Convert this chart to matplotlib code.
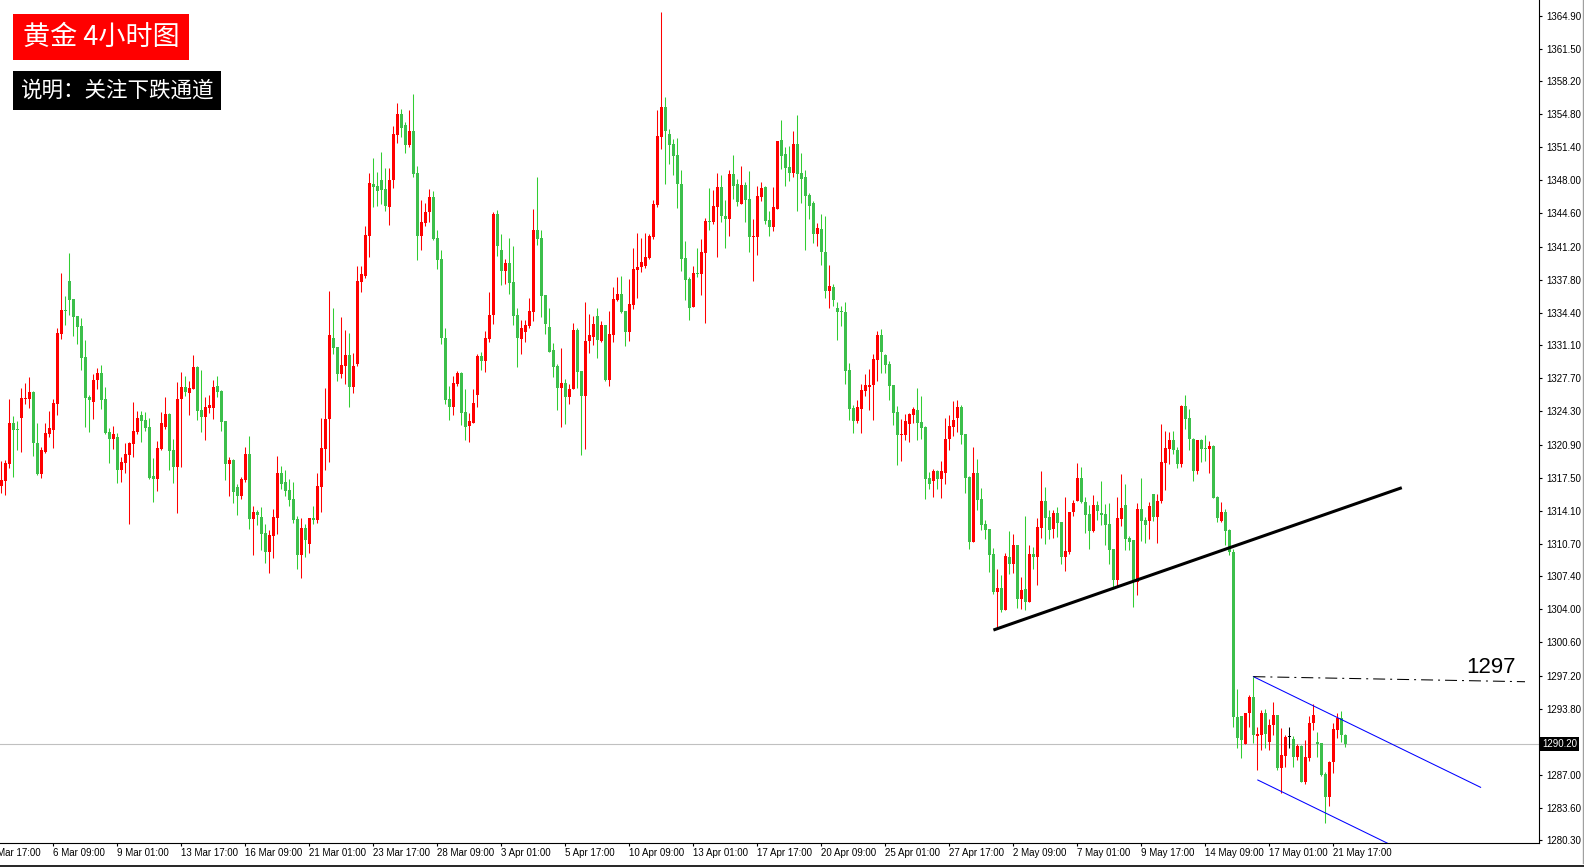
import numpy as np
import matplotlib.pyplot as plt
import matplotlib.transforms as mtransforms
from matplotlib import font_manager
from matplotlib.patches import Rectangle
from matplotlib.lines import Line2D

# bar index 0 = 1 Mar 17:00 (4h bars); first bar on screen is index 3
first_bar = 3
opens = [1316.67, 1317.18, 1318.93, 1323.10, 1322.50, 1323.65, 1325.60, 1325.60, 1326.28, 1321.05,
         1317.90, 1320.16, 1322.00, 1322.42, 1325.08, 1332.26, 1334.70, 1337.66, 1335.82, 1334.08,
         1333.05, 1329.87, 1325.77, 1325.29, 1327.48, 1328.23, 1325.56, 1322.18, 1321.49, 1321.66,
         1318.31, 1319.03, 1319.85, 1320.98, 1322.18, 1323.92, 1323.41, 1322.69, 1317.66, 1317.39,
         1320.47, 1322.72, 1324.06, 1320.33, 1318.62, 1325.56, 1326.79, 1326.21, 1326.62, 1328.84,
         1324.44, 1323.75, 1324.67, 1324.60, 1326.90, 1326.38, 1323.31, 1318.94, 1319.31, 1316.54,
         1315.65, 1317.26, 1319.93, 1313.29, 1313.98, 1313.47, 1311.83, 1309.91, 1311.55, 1313.39,
         1317.98, 1317.05, 1316.23, 1315.31, 1313.26, 1309.60, 1312.34, 1310.73, 1313.36, 1313.16,
         1316.58, 1320.47, 1323.52, 1331.82, 1330.93, 1328.17, 1328.99, 1330.08, 1326.83, 1329.19,
         1337.57, 1338.18, 1342.29, 1347.62, 1347.41, 1348.03, 1347.11, 1345.26, 1348.03, 1352.64,
         1354.80, 1353.67, 1351.62, 1353.05, 1348.75, 1342.29, 1343.62, 1344.75, 1346.29, 1342.08,
         1339.93, 1331.82, 1325.57, 1324.75, 1327.11, 1328.24, 1324.24, 1322.83, 1323.14, 1326.01,
         1329.98, 1329.50, 1331.76, 1334.18, 1344.54, 1340.85, 1338.73, 1339.55, 1337.60, 1334.18,
         1331.76, 1332.48, 1333.09, 1334.53, 1342.90, 1342.08, 1336.24, 1332.95, 1330.59, 1328.99,
         1326.73, 1327.21, 1325.81, 1326.63, 1332.65, 1328.44, 1325.91, 1331.52, 1331.96, 1334.08,
         1331.55, 1333.16, 1327.55, 1332.17, 1335.76, 1336.34, 1334.60, 1332.48, 1335.25, 1338.80,
         1339.11, 1339.25, 1340.06, 1342.22, 1345.47, 1352.44, 1355.52, 1352.75, 1351.72, 1350.60,
         1347.62, 1340.03, 1337.88, 1335.04, 1338.49, 1338.42, 1340.58, 1343.83, 1343.76, 1345.30,
         1347.31, 1344.37, 1344.07, 1348.65, 1347.62, 1345.60, 1347.52, 1346.08, 1342.20, 1342.22,
         1346.32, 1347.31, 1343.93, 1343.25, 1345.09, 1352.13, 1350.70, 1349.37, 1348.75, 1351.72,
         1348.75, 1348.34, 1346.49, 1345.67, 1342.53, 1343.01, 1340.65, 1336.68, 1337.06, 1334.87,
         1334.60, 1334.49, 1328.54, 1324.68, 1323.35, 1324.58, 1326.43, 1326.80, 1327.04, 1329.61,
         1332.17, 1330.12, 1329.19, 1327.04, 1324.27, 1321.91, 1321.87, 1323.00, 1323.92, 1324.44,
         1323.21, 1322.69, 1317.46, 1317.16, 1318.18, 1317.36, 1317.98, 1321.46, 1322.73, 1323.62,
         1324.75, 1321.98, 1317.57, 1310.90, 1317.98, 1315.31, 1312.74, 1312.23, 1309.67, 1305.77,
         1306.18, 1303.92, 1309.36, 1308.64, 1310.59, 1305.05, 1306.08, 1304.75, 1309.67, 1309.36,
         1312.33, 1315.10, 1313.46, 1312.23, 1313.87, 1312.95, 1309.36, 1309.87, 1313.98, 1315.10,
         1317.46, 1315.00, 1313.77, 1312.03, 1314.69, 1313.87, 1313.77, 1312.74, 1310.18, 1307.00,
         1313.26, 1314.69, 1311.31, 1311.10, 1306.84, 1314.29, 1313.16, 1313.09, 1315.83, 1313.50,
         1315.14, 1319.04, 1320.48, 1321.37, 1320.37, 1318.94, 1324.89, 1323.62, 1321.50, 1318.22,
         1321.37, 1320.58, 1320.48, 1320.75, 1315.55, 1313.09, 1314.02, 1312.14, 1309.91, 1292.99,
         1293.06, 1290.15, 1293.33, 1295.04, 1291.01, 1291.11, 1293.40, 1290.43, 1292.14, 1293.16,
         1287.76, 1288.96, 1290.87, 1290.67, 1288.82, 1289.98, 1286.25, 1288.72, 1292.30, 1290.43,
         1290.26, 1287.07, 1284.72, 1288.37, 1291.62, 1292.82, 1291.08]
highs = [1319.24, 1319.31, 1325.56, 1323.82, 1323.31, 1326.69, 1327.17, 1327.82, 1326.42, 1323.13,
         1320.64, 1323.13, 1324.33, 1325.56, 1332.84, 1338.49, 1336.13, 1340.50, 1335.82, 1334.08,
         1333.84, 1331.61, 1325.97, 1328.09, 1328.74, 1329.02, 1326.79, 1322.62, 1322.79, 1322.11,
         1319.61, 1321.05, 1321.19, 1325.25, 1324.33, 1324.33, 1324.23, 1323.61, 1319.51, 1321.26,
         1324.23, 1325.77, 1324.13, 1321.46, 1327.31, 1328.33, 1327.92, 1327.41, 1330.08, 1328.95,
         1328.54, 1325.77, 1325.97, 1327.51, 1327.92, 1326.49, 1323.31, 1319.65, 1319.41, 1316.85,
         1317.57, 1320.64, 1321.77, 1314.59, 1314.18, 1314.49, 1312.75, 1312.13, 1314.29, 1319.72,
         1318.70, 1318.29, 1317.36, 1317.09, 1313.57, 1313.36, 1312.75, 1313.36, 1314.59, 1317.98,
         1323.62, 1326.70, 1336.64, 1334.90, 1330.93, 1333.98, 1332.64, 1332.34, 1330.29, 1339.21,
         1339.21, 1343.31, 1348.75, 1350.29, 1348.85, 1350.90, 1349.26, 1349.26, 1353.57, 1355.93,
         1355.31, 1353.98, 1355.21, 1356.85, 1349.46, 1345.98, 1345.67, 1347.11, 1346.90, 1342.90,
         1340.85, 1332.85, 1326.90, 1327.93, 1328.44, 1328.34, 1326.60, 1324.13, 1326.60, 1330.18,
         1330.39, 1332.54, 1336.54, 1344.75, 1344.95, 1342.49, 1339.93, 1342.08, 1341.26, 1334.90,
         1333.67, 1333.67, 1335.93, 1345.06, 1348.34, 1342.90, 1336.24, 1334.90, 1331.31, 1329.19,
         1330.80, 1327.62, 1327.11, 1333.37, 1332.85, 1328.44, 1335.52, 1334.29, 1334.08, 1334.90,
         1333.57, 1333.16, 1334.60, 1337.06, 1338.08, 1338.19, 1334.60, 1337.88, 1341.06, 1342.60,
         1342.08, 1342.60, 1342.49, 1345.98, 1355.21, 1365.26, 1356.54, 1353.26, 1352.24, 1352.34,
         1349.06, 1341.78, 1338.08, 1339.21, 1341.06, 1341.98, 1344.13, 1347.21, 1347.01, 1348.75,
         1348.54, 1345.98, 1349.06, 1350.60, 1348.13, 1349.47, 1347.83, 1348.95, 1344.03, 1347.42,
         1347.83, 1347.42, 1344.85, 1347.31, 1352.03, 1354.19, 1351.42, 1351.52, 1353.06, 1354.70,
         1350.80, 1349.06, 1346.70, 1345.88, 1343.62, 1344.55, 1344.37, 1339.31, 1337.37, 1335.52,
         1335.11, 1335.52, 1329.26, 1324.96, 1325.50, 1327.14, 1328.13, 1328.68, 1330.22, 1332.58,
         1332.78, 1330.22, 1329.50, 1327.04, 1324.89, 1323.55, 1324.03, 1324.13, 1324.75, 1326.69,
         1325.87, 1322.80, 1318.08, 1318.39, 1318.28, 1319.21, 1323.62, 1323.92, 1325.36, 1325.46,
         1324.95, 1321.98, 1317.67, 1320.64, 1319.41, 1316.44, 1313.15, 1312.23, 1310.28, 1308.13,
         1307.51, 1309.77, 1312.03, 1311.72, 1310.59, 1307.31, 1313.57, 1310.59, 1310.39, 1313.36,
         1318.18, 1316.54, 1314.18, 1314.18, 1314.49, 1312.95, 1315.51, 1313.98, 1315.21, 1319.00,
         1318.59, 1315.51, 1314.69, 1315.72, 1315.10, 1317.16, 1314.79, 1314.90, 1310.18, 1315.51,
         1317.87, 1316.85, 1311.51, 1311.10, 1314.90, 1317.43, 1313.43, 1315.01, 1315.83, 1315.83,
         1323.01, 1322.29, 1322.19, 1322.29, 1320.68, 1324.96, 1325.98, 1324.55, 1321.60, 1321.37,
         1321.47, 1321.88, 1321.26, 1320.89, 1315.66, 1315.01, 1314.32, 1312.27, 1310.15, 1295.79,
         1293.06, 1293.40, 1295.21, 1297.09, 1291.96, 1293.67, 1293.74, 1292.72, 1294.53, 1293.16,
         1291.79, 1291.07, 1291.89, 1291.01, 1290.19, 1290.08, 1290.60, 1293.06, 1294.29, 1291.45,
         1290.32, 1287.35, 1288.44, 1292.30, 1293.33, 1293.57, 1291.21]
lows = [1315.96, 1315.75, 1318.52, 1317.60, 1320.33, 1320.16, 1325.08, 1324.67, 1319.75, 1317.77,
        1317.49, 1319.99, 1321.70, 1320.57, 1323.96, 1331.75, 1333.15, 1334.21, 1332.06, 1331.24,
        1328.57, 1322.72, 1322.21, 1323.55, 1326.59, 1324.57, 1321.97, 1319.03, 1320.40, 1316.91,
        1317.02, 1318.01, 1312.78, 1319.65, 1321.94, 1321.19, 1322.31, 1317.39, 1315.03, 1316.16,
        1320.37, 1322.52, 1318.31, 1316.98, 1313.90, 1318.62, 1325.87, 1323.96, 1326.55, 1323.44,
        1322.21, 1321.39, 1324.16, 1323.51, 1325.80, 1322.31, 1317.29, 1315.62, 1314.94, 1313.70,
        1315.31, 1317.06, 1312.23, 1309.60, 1312.68, 1310.08, 1308.78, 1307.76, 1309.29, 1311.76,
        1316.34, 1315.65, 1314.59, 1312.88, 1308.13, 1307.24, 1309.40, 1309.77, 1312.75, 1312.88,
        1314.01, 1318.32, 1319.14, 1330.22, 1327.45, 1327.72, 1327.14, 1324.78, 1326.22, 1328.99,
        1336.58, 1337.98, 1340.13, 1345.26, 1345.36, 1345.57, 1344.85, 1343.41, 1347.21, 1351.82,
        1352.44, 1350.80, 1351.41, 1348.34, 1339.82, 1340.85, 1343.31, 1343.72, 1341.88, 1338.90,
        1331.21, 1325.06, 1323.41, 1323.93, 1326.94, 1322.94, 1321.40, 1321.19, 1323.14, 1324.78,
        1328.54, 1328.34, 1331.45, 1333.26, 1340.27, 1337.30, 1337.40, 1336.37, 1333.19, 1328.89,
        1330.22, 1331.45, 1332.88, 1333.60, 1341.40, 1334.01, 1332.27, 1330.42, 1327.86, 1324.48,
        1322.73, 1323.04, 1325.09, 1326.63, 1326.73, 1319.86, 1320.48, 1330.32, 1331.14, 1329.81,
        1331.45, 1327.45, 1326.94, 1331.45, 1335.66, 1334.43, 1331.04, 1331.55, 1334.83, 1335.96,
        1338.63, 1339.04, 1339.96, 1342.01, 1345.26, 1351.21, 1347.62, 1349.67, 1348.54, 1345.16,
        1338.73, 1335.76, 1333.71, 1335.04, 1338.12, 1336.27, 1333.40, 1342.94, 1343.55, 1340.17,
        1343.76, 1341.09, 1342.32, 1346.08, 1345.40, 1345.60, 1343.76, 1340.68, 1337.71, 1340.37,
        1345.91, 1343.55, 1342.32, 1342.83, 1345.09, 1349.19, 1347.45, 1347.93, 1348.37, 1344.89,
        1345.71, 1340.89, 1344.07, 1341.60, 1341.30, 1339.35, 1335.96, 1334.94, 1335.14, 1331.66,
        1333.09, 1327.14, 1323.45, 1322.12, 1323.14, 1322.12, 1325.91, 1324.48, 1323.45, 1327.45,
        1328.27, 1328.27, 1325.50, 1322.94, 1318.84, 1319.25, 1321.36, 1321.16, 1323.07, 1321.36,
        1321.46, 1315.31, 1316.33, 1315.51, 1316.33, 1315.41, 1316.85, 1320.33, 1321.77, 1322.18,
        1320.95, 1315.92, 1310.18, 1310.90, 1314.18, 1312.13, 1311.21, 1307.82, 1305.57, 1301.98,
        1303.72, 1303.92, 1307.62, 1307.72, 1304.13, 1304.03, 1303.92, 1304.75, 1308.13, 1306.49,
        1311.31, 1310.69, 1311.21, 1311.31, 1311.41, 1308.64, 1307.92, 1309.67, 1313.57, 1315.10,
        1314.90, 1311.82, 1310.18, 1311.92, 1313.15, 1312.64, 1310.59, 1308.64, 1306.08, 1306.28,
        1312.54, 1310.08, 1310.08, 1304.23, 1305.46, 1311.04, 1310.77, 1311.18, 1313.09, 1310.77,
        1314.94, 1316.27, 1318.94, 1319.96, 1318.53, 1318.63, 1322.53, 1320.37, 1317.20, 1317.91,
        1319.14, 1319.25, 1318.02, 1315.45, 1312.99, 1312.99, 1310.63, 1309.54, 1291.96, 1289.74,
        1288.79, 1290.15, 1291.96, 1290.32, 1287.52, 1289.57, 1289.74, 1289.57, 1291.11, 1287.52,
        1285.13, 1287.79, 1289.81, 1287.79, 1288.55, 1286.25, 1286.08, 1288.45, 1291.62, 1288.82,
        1286.90, 1282.05, 1283.83, 1287.18, 1290.77, 1290.43, 1289.91]
closes = [1317.25, 1318.96, 1323.10, 1322.42, 1322.40, 1325.66, 1325.70, 1326.28, 1321.08, 1317.87,
          1320.33, 1322.08, 1322.59, 1325.15, 1332.33, 1334.69, 1334.60, 1335.75, 1334.01, 1332.98,
          1329.80, 1325.70, 1325.49, 1327.51, 1328.23, 1325.49, 1322.11, 1321.49, 1321.97, 1318.31,
          1319.10, 1319.96, 1321.08, 1322.28, 1323.61, 1323.34, 1322.62, 1317.49, 1317.39, 1320.54,
          1323.10, 1324.02, 1320.26, 1318.62, 1325.56, 1326.79, 1326.28, 1326.69, 1328.84, 1324.37,
          1323.75, 1324.74, 1324.95, 1326.79, 1326.31, 1323.24, 1318.93, 1319.31, 1316.06, 1315.65,
          1317.40, 1319.93, 1313.29, 1313.98, 1313.67, 1311.76, 1309.91, 1311.62, 1313.46, 1317.98,
          1316.88, 1316.13, 1315.24, 1313.16, 1309.60, 1312.34, 1311.11, 1313.36, 1313.16, 1316.65,
          1320.54, 1323.52, 1332.13, 1330.83, 1328.17, 1329.05, 1330.08, 1326.83, 1328.99, 1337.67,
          1338.39, 1342.39, 1347.72, 1347.31, 1346.93, 1347.00, 1345.36, 1348.03, 1352.75, 1354.80,
          1353.36, 1351.62, 1353.05, 1348.64, 1342.29, 1343.72, 1344.75, 1346.29, 1341.98, 1339.82,
          1331.82, 1325.47, 1324.75, 1327.21, 1328.24, 1324.17, 1322.73, 1323.31, 1325.16, 1329.98,
          1329.50, 1331.83, 1334.18, 1344.54, 1341.30, 1338.73, 1339.55, 1337.50, 1334.12, 1331.86,
          1332.85, 1333.16, 1334.60, 1342.90, 1342.01, 1336.17, 1333.26, 1330.42, 1328.89, 1326.73,
          1327.21, 1325.81, 1326.60, 1332.65, 1328.37, 1325.91, 1331.52, 1332.13, 1333.26, 1331.59,
          1333.16, 1327.55, 1332.24, 1335.83, 1336.34, 1334.53, 1332.48, 1335.31, 1338.90, 1339.11,
          1339.62, 1340.13, 1342.29, 1345.57, 1352.54, 1355.52, 1353.06, 1351.62, 1350.49, 1347.62,
          1339.96, 1337.81, 1334.94, 1338.49, 1338.36, 1340.65, 1343.83, 1343.76, 1345.37, 1347.31,
          1344.37, 1344.07, 1348.65, 1347.45, 1345.81, 1347.52, 1346.01, 1342.22, 1342.30, 1346.39,
          1347.21, 1343.86, 1343.25, 1345.26, 1352.03, 1350.53, 1349.30, 1348.75, 1351.72, 1348.65,
          1348.17, 1346.43, 1345.40, 1342.53, 1343.11, 1340.68, 1336.68, 1337.16, 1335.76, 1334.53,
          1334.50, 1328.48, 1324.58, 1323.35, 1324.78, 1326.53, 1327.04, 1327.04, 1329.71, 1332.17,
          1330.43, 1329.09, 1326.94, 1324.17, 1321.91, 1322.02, 1323.31, 1324.03, 1324.54, 1323.14,
          1322.59, 1317.36, 1316.85, 1318.18, 1317.36, 1318.18, 1321.46, 1322.80, 1323.41, 1324.75,
          1321.87, 1317.46, 1310.90, 1317.98, 1315.21, 1312.64, 1312.13, 1309.57, 1305.77, 1306.18,
          1303.92, 1309.46, 1308.64, 1310.59, 1305.05, 1305.98, 1304.75, 1309.67, 1309.36, 1312.44,
          1315.10, 1313.36, 1312.13, 1313.87, 1312.85, 1309.36, 1309.97, 1313.98, 1314.90, 1317.46,
          1315.00, 1313.67, 1312.03, 1314.69, 1314.08, 1313.67, 1312.64, 1310.08, 1307.00, 1313.36,
          1314.39, 1311.21, 1310.90, 1307.00, 1314.29, 1313.09, 1312.65, 1314.60, 1313.50, 1315.14,
          1319.11, 1320.55, 1321.37, 1320.37, 1318.94, 1324.89, 1323.55, 1321.50, 1318.22, 1321.37,
          1320.48, 1320.48, 1320.75, 1315.45, 1313.40, 1314.02, 1312.07, 1309.91, 1292.99, 1290.77,
          1290.60, 1293.40, 1295.04, 1291.11, 1291.21, 1293.40, 1291.21, 1292.14, 1293.16, 1287.76,
          1289.06, 1290.90, 1290.87, 1288.82, 1289.98, 1286.32, 1288.89, 1292.37, 1293.16, 1290.15,
          1287.01, 1284.72, 1288.37, 1291.69, 1292.82, 1291.11, 1290.20]

# time axis labels (every 16 bars)
tick_bars = [16, 32, 48, 64, 80, 96, 112, 128, 144, 160, 176,
             192, 208, 224, 240, 256, 272, 288, 304, 320, 336]
tick_labels = ["6 Mar 09:00", "9 Mar 01:00", "13 Mar 17:00", "16 Mar 09:00", "21 Mar 01:00",
               "23 Mar 17:00", "28 Mar 09:00", "3 Apr 01:00", "5 Apr 17:00", "10 Apr 09:00",
               "13 Apr 01:00", "17 Apr 17:00", "20 Apr 09:00", "25 Apr 01:00", "27 Apr 17:00",
               "2 May 09:00", "7 May 01:00", "9 May 17:00", "14 May 09:00", "17 May 01:00",
               "21 May 17:00"]
cut_label_bar = 0
cut_label = "1 Mar 17:00"

price_ticks = [1364.90, 1361.50, 1358.20, 1354.80, 1351.40, 1348.00, 1344.60, 1341.20,
               1337.80, 1334.40, 1331.10, 1327.70, 1324.30, 1320.90, 1317.50, 1314.10,
               1310.70, 1307.40, 1304.00, 1300.60, 1297.20, 1293.80, 1287.00, 1283.60, 1280.30]
last_price = 1290.20

# drawn objects: (bar, price) anchors
trend_bars = [251.1, 353.2]
trend_prices = [1301.87, 1316.47]
chan_top_bars = [316.1, 372.9]
chan_top_prices = [1297.09, 1285.74]
chan_bot_bars = [317.2, 352.0]
chan_bot_prices = [1286.49, 1279.53]
level_bars = [316.1, 384.0]
level_prices = [1297.09, 1296.57]
level_text = "1297"
level_text_bar = 369.4
level_text_price = 1297.5

title_text = "黄金 4小时图"
note_text = "说明：关注下跌通道"

W, H = 1584, 867
names = {f.name for f in font_manager.fontManager.ttflist}
if "Liberation Sans Narrow" in names:
    tick_font, tick_size = "Liberation Sans Narrow", 8.5
else:
    tick_font, tick_size = "Liberation Sans", 7.0
cjk = ["Noto Sans CJK SC", "DejaVu Sans"]

fig = plt.figure(figsize=(W / 100, H / 100), dpi=100)
fig.patch.set_facecolor("white")
ax = fig.add_axes([0, (H - 842.7) / H, 1539 / W, 842.7 / H])
ax.set_xlim(2.75, 387.5)
ax.set_ylim(1280.06, 1366.49)

o = np.array(opens)
h = np.array(highs)
l = np.array(lows)
c = np.array(closes)
x = np.arange(first_bar, first_bar + len(o))

red = "#ff0000"
green_wick = "#32cd32"
green_body = "#3cbf4b"
wick_col = np.where(c > o, red, np.where(c < o, green_wick, "black"))
body_col = np.where(c > o, red, np.where(c < o, green_body, "black"))

ax.axhline(last_price, color="#c0c0c0", lw=0.8, zorder=1)
ax.vlines(x, l, h, colors=wick_col, lw=0.75, zorder=2)
ax.bar(x, np.maximum(np.abs(c - o), 0.1), bottom=np.minimum(o, c), width=0.75,
       color=body_col, linewidth=0, zorder=3)

# trend line, channel, level
ax.plot(trend_bars, trend_prices, color="black", lw=2.2, solid_capstyle="butt", zorder=4)
ax.plot(chan_top_bars, chan_top_prices, color="#0000ff", lw=0.75, zorder=4)
ax.plot(chan_bot_bars, chan_bot_prices, color="#0000ff", lw=0.75, zorder=4)
ax.plot(level_bars, level_prices, color="black", lw=0.75,
        linestyle=(0, (11.5, 4.8, 1.9, 4.8)), zorder=4)
ax.text(level_text_bar, level_text_price, level_text, fontsize=16,
        family="Liberation Sans", ha="left", va="baseline", zorder=5)

# axes look
for side in ["top", "left"]:
    ax.spines[side].set_visible(False)
for side in ["right", "bottom"]:
    ax.spines[side].set_color("black")
    ax.spines[side].set_linewidth(0.8)

ax.yaxis.tick_right()
ax.set_yticks(price_ticks)
ax.set_yticklabels([f"{v:.2f}" for v in price_ticks])
ax.tick_params(axis="y", direction="out", length=1.8, width=0.8, pad=3.2,
               labelsize=tick_size, colors="black")
ax.set_xticks(tick_bars)
ax.set_xticklabels(tick_labels, ha="left")
ax.tick_params(axis="x", direction="out", length=2.5, width=0.8, pad=1.2,
               labelsize=tick_size, colors="black")
for lbl in ax.get_xticklabels() + ax.get_yticklabels():
    lbl.set_family(tick_font)

blend_x = mtransforms.blended_transform_factory(ax.transData, ax.transAxes)
ax.annotate(cut_label, xy=(cut_label_bar, 0), xycoords=blend_x, xytext=(0, -3.7),
            textcoords="offset points", ha="left", va="top", family=tick_font,
            fontsize=tick_size, annotation_clip=False)

blend_y = mtransforms.blended_transform_factory(ax.transAxes, ax.transData)
ax.annotate(f"{last_price:.2f}", xy=(1, last_price), xycoords=blend_y, xytext=(2.2, 0),
            textcoords="offset points", ha="left", va="center", color="white",
            family=tick_font, fontsize=tick_size, annotation_clip=False, zorder=6,
            bbox=dict(boxstyle="square,pad=0.22", fc="black", ec="none"))


def fx(px):
    return px / W


def fy(py):
    return 1 - py / H


# label boxes, top left
fig.add_artist(Rectangle((fx(13), fy(60)), fx(176), 46 / H, facecolor="#ff0000",
                         edgecolor="none", transform=fig.transFigure))
fig.text(fx(101), fy(37), title_text, color="white", fontsize=19.5, family=cjk,
         ha="center", va="center")
fig.add_artist(Rectangle((fx(13), fy(110)), fx(208), 39 / H, facecolor="black",
                         edgecolor="none", transform=fig.transFigure))
fig.text(fx(117), fy(90.5), note_text, color="white", fontsize=15.5, family=cjk,
         ha="center", va="center")

# window frame bits
fig.add_artist(Line2D([fx(1582.5), fx(1582.5)], [fy(0), fy(863)], color="#a0a0a0",
                      lw=1, transform=fig.transFigure))
fig.add_artist(Line2D([0, 1], [fy(865.8), fy(865.8)], color="black", lw=1.2,
                      transform=fig.transFigure))

fig.savefig("out.png", dpi=100, facecolor="white")
